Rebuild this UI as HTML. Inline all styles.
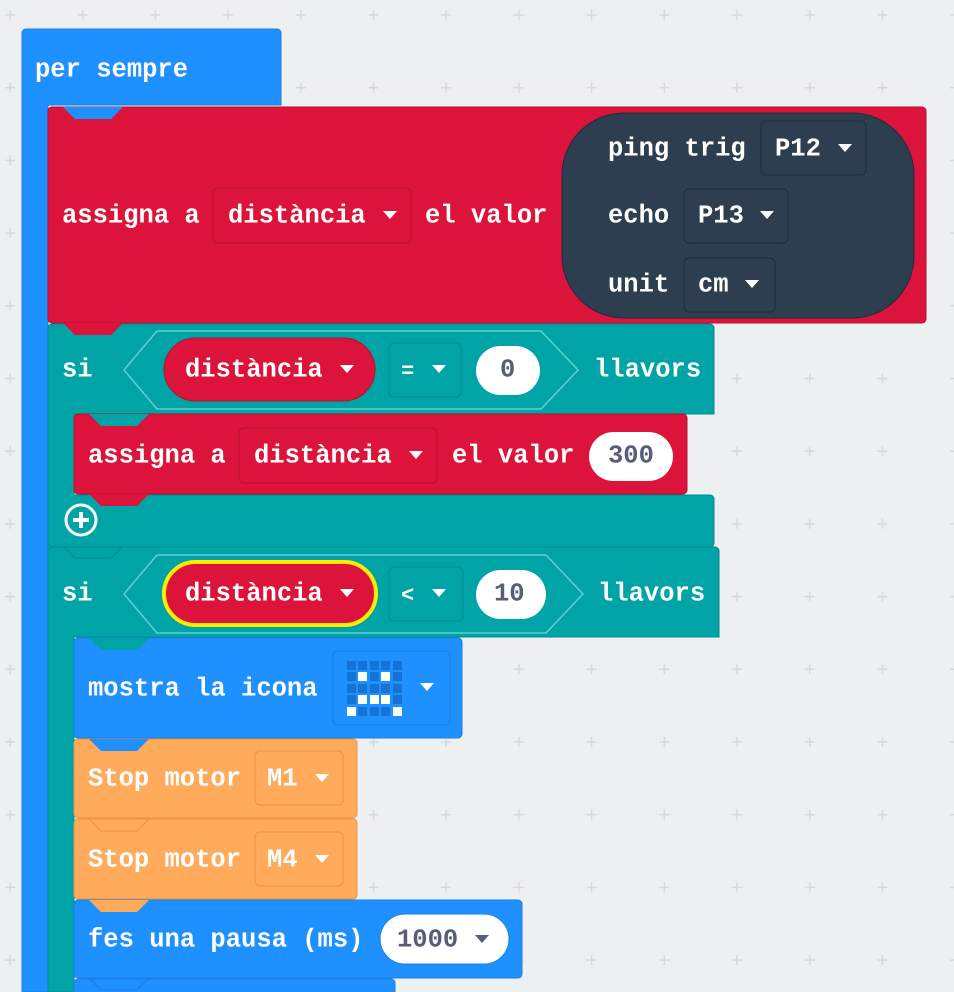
<!DOCTYPE html>
<html><head><meta charset="utf-8"><style>
html,body{margin:0;padding:0;background:#ecf0f1;}
svg{display:block}
text{font-family:"Liberation Mono",monospace;font-size:25.5px;font-weight:bold;fill:#fff;dominant-baseline:central}
.d{fill:#575e75}
</style></head><body>
<svg width="954" height="992" viewBox="0 0 954 992" xmlns="http://www.w3.org/2000/svg">
<defs>
<pattern id="g" x="-26" y="-21" width="72.7" height="72.7" patternUnits="userSpaceOnUse">
<path d="M36 31v10M31 36h10" stroke="#d4d9dc" stroke-width="1.5"/>
</pattern>
<path id="tri" d="M-7 -4h14l-7 8z" fill="#fff"/>
<path id="trid" d="M-7 -4h14l-7 8z" fill="#575e75"/>
</defs>
<rect width="954" height="992" fill="#ecf0f1"/>
<rect width="954" height="992" fill="url(#g)"/>

<path d="M26 29h251a4 4 0 0 1 4 4v72H48v887H22V33a4 4 0 0 1 4-4z" fill="#1e90ff" stroke="#1a7fe0" stroke-width="1"/>
<text x="35" y="70">per sempre</text>

<rect x="48" y="107" width="878" height="216" rx="4" fill="#dc143c" stroke="#b8102f"/>
<path d="M63 107l12 12h36l12-12z" fill="#1e90ff"/>
<text x="62" y="216">assigna a</text>
<rect x="213" y="188" width="198" height="55" rx="5" fill="#dc143c" stroke="#b8102f"/>
<text x="228" y="216">distància</text>
<use href="#tri" x="390" y="215"/>
<text x="425" y="216">el valor</text>
<rect x="562" y="113" width="352" height="205" rx="62" fill="#2d3e50" stroke="#1f2d3a"/>
<text x="608" y="149">ping trig</text>
<rect x="761" y="121" width="105" height="54" rx="5" fill="#2d3e50" stroke="#1f2d3a"/>
<text x="775" y="149">P12</text>
<use href="#tri" x="845" y="148"/>
<text x="608" y="216">echo</text>
<rect x="684" y="189" width="104" height="54" rx="5" fill="#2d3e50" stroke="#1f2d3a"/>
<text x="698" y="216">P13</text>
<use href="#tri" x="767" y="215"/>
<text x="608" y="285">unit</text>
<rect x="684" y="258" width="91" height="54" rx="5" fill="#2d3e50" stroke="#1f2d3a"/>
<text x="698" y="285">cm</text>
<use href="#tri" x="752" y="284"/>

<path d="M52 324h658a4 4 0 0 1 4 4v86H74v81h636a4 4 0 0 1 4 4v44a4 4 0 0 1-4 4H48V328a4 4 0 0 1 4-4z" fill="#00a4a6" stroke="#008b8d"/>
<path d="M63 323l12 12h36l12-12z" fill="#dc143c"/>
<text x="62" y="370">si</text>
<path d="M157 331h384l37 39l-37 39H157l-33-39z" fill="#00a4a6" stroke="#5fd0d0" stroke-width="1.5"/>
<rect x="164" y="338" width="211" height="63" rx="31.5" fill="#dc143c" stroke="#b8102f"/>
<text x="185" y="370">distància</text>
<use href="#tri" x="347" y="369"/>
<rect x="389" y="343" width="72" height="54" rx="5" fill="#00a4a6" stroke="#008b8d"/>
<text x="401" y="372" style="font-size:22px">=</text>
<use href="#tri" x="439" y="369"/>
<rect x="476" y="346" width="64" height="49" rx="24.5" fill="#fff"/>
<text x="500" y="370" class="d">0</text>
<text x="594" y="370">llavors</text>

<rect x="74" y="414" width="613" height="80" rx="4" fill="#dc143c" stroke="#b8102f"/>
<path d="M89 414l12 12h36l12-12z" fill="#00a4a6"/>
<text x="88" y="456">assigna a</text>
<rect x="239" y="428" width="198" height="55" rx="5" fill="#dc143c" stroke="#b8102f"/>
<text x="254" y="456">distància</text>
<use href="#tri" x="416" y="455"/>
<text x="452" y="456">el valor</text>
<rect x="589" y="432" width="84" height="49" rx="24.5" fill="#fff"/>
<text x="608" y="456" class="d">300</text>
<path d="M89 494l12 12h36l12-12z" fill="#dc143c"/>
<circle cx="81" cy="520" r="15" fill="none" stroke="#fff" stroke-width="3"/>
<path d="M81 512v16M73 520h16" stroke="#fff" stroke-width="4"/>

<path d="M52 547h663a4 4 0 0 1 4 4v86H74v355H48V551a4 4 0 0 1 4-4z" fill="#00a4a6" stroke="#008b8d"/>
<path d="M63 546l12 12h36l12-12" fill="none" stroke="#008b8d"/>
<text x="62" y="594">si</text>
<path d="M157 555h389l37 39l-37 39H157l-33-39z" fill="#00a4a6" stroke="#5fd0d0" stroke-width="1.5"/>
<rect x="164" y="562" width="212" height="63" rx="31.5" fill="#dc143c" stroke="#ffec00" stroke-width="4"/>
<text x="185" y="594">distància</text>
<use href="#tri" x="347" y="593"/>
<rect x="389" y="567" width="74" height="54" rx="5" fill="#00a4a6" stroke="#008b8d"/>
<text x="401" y="596" style="font-size:22px">&lt;</text>
<use href="#tri" x="439" y="593"/>
<rect x="476" y="570" width="70" height="49" rx="24.5" fill="#fff"/>
<text x="494" y="594" class="d">10</text>
<text x="598" y="594">llavors</text>

<rect x="74" y="638" width="388" height="100" rx="4" fill="#1e90ff" stroke="#1a7fe0"/>
<path d="M89 638l12 12h36l12-12z" fill="#00a4a6"/>
<text x="88" y="689">mostra la icona</text>
<rect x="333" y="651" width="117" height="74" rx="5" fill="#1e90ff" stroke="#1a7fe0"/>
<g fill="#1673d6">
<rect x="347" y="661" width="9" height="9"/><rect x="358" y="661" width="9" height="9"/><rect x="370" y="661" width="9" height="9"/><rect x="381" y="661" width="9" height="9"/><rect x="393" y="661" width="9" height="9"/>
<rect x="347" y="672" width="9" height="9"/><rect x="370" y="672" width="9" height="9"/><rect x="393" y="672" width="9" height="9"/>
<rect x="347" y="684" width="9" height="9"/><rect x="358" y="684" width="9" height="9"/><rect x="370" y="684" width="9" height="9"/><rect x="381" y="684" width="9" height="9"/><rect x="393" y="684" width="9" height="9"/>
<rect x="347" y="695" width="9" height="9"/><rect x="393" y="695" width="9" height="9"/>
<rect x="358" y="707" width="9" height="9"/><rect x="370" y="707" width="9" height="9"/><rect x="381" y="707" width="9" height="9"/>
</g>
<g fill="#fff">
<rect x="358" y="672" width="9" height="9"/><rect x="381" y="672" width="9" height="9"/>
<rect x="358" y="695" width="9" height="9"/><rect x="370" y="695" width="9" height="9"/><rect x="381" y="695" width="9" height="9"/>
<rect x="347" y="707" width="9" height="9"/><rect x="393" y="707" width="9" height="9"/>
</g>
<use href="#tri" x="427" y="687"/>

<rect x="74" y="739" width="283" height="79" rx="4" fill="#ffab5b" stroke="#e8924a"/>
<path d="M89 739l12 12h36l12-12z" fill="#1e90ff"/>
<text x="88" y="779">Stop motor</text>
<rect x="255" y="751" width="88" height="54" rx="5" fill="#ffab5b" stroke="#e8924a"/>
<text x="267" y="779">M1</text>
<use href="#tri" x="322" y="778"/>
<rect x="74" y="819" width="283" height="80" rx="4" fill="#ffab5b" stroke="#e8924a"/>
<path d="M89 819l12 12h36l12-12z" fill="#ffab5b" stroke="#e8924a"/>
<text x="88" y="860">Stop motor</text>
<rect x="255" y="832" width="88" height="54" rx="5" fill="#ffab5b" stroke="#e8924a"/>
<text x="267" y="860">M4</text>
<use href="#tri" x="322" y="859"/>

<rect x="74" y="900" width="448" height="78" rx="4" fill="#1e90ff" stroke="#1a7fe0"/>
<path d="M89 900l12 12h36l12-12z" fill="#ffab5b"/>
<text x="88" y="940">fes una pausa (ms)</text>
<rect x="380" y="914" width="129" height="50" rx="25" fill="#fff" stroke="#1a7fe0"/>
<text x="397" y="940" class="d">1000</text>
<use href="#trid" x="482" y="939"/>

<rect x="74" y="979" width="321" height="30" rx="4" fill="#1e90ff" stroke="#1a7fe0"/>
<path d="M89 978l12 12h36l12-12" fill="none" stroke="#1a7fe0"/>
</svg>
</body></html>
